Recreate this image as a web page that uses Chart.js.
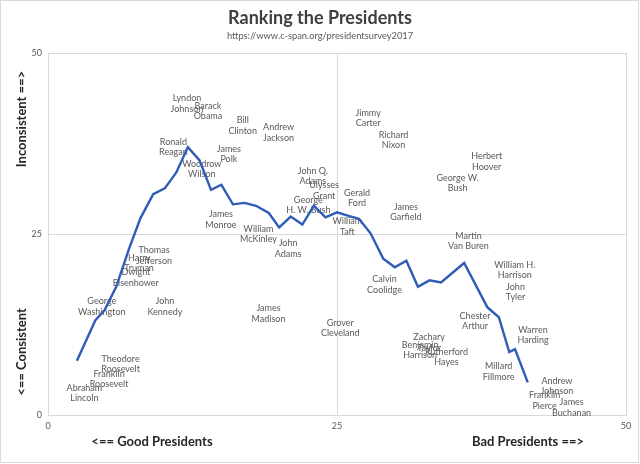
<!DOCTYPE html>
<html>
<head>
<meta charset="utf-8">
<script src="https://cdn.jsdelivr.net/npm/chart.js@4.4.1/dist/chart.umd.min.js"></script>
<style>
    body { margin: 0; background: #ffffff; }
    #wrap { width: 640px; height: 464px; position: relative; }
</style>
</head>
<body>
<div id="wrap"><canvas id="rankingChart"></canvas></div>
<script>
// C-SPAN rank (x) and consistency (y) for each president
const names = [
    'Abraham\nLincoln', 'George\nWashington', 'Franklin\nRoosevelt', 'Theodore\nRoosevelt',
    'Dwight\nEisenhower', 'Harry\nTruman', 'Thomas\nJefferson', 'John\nKennedy',
    'Ronald\nReagan', 'Lyndon\nJohnson', 'Woodrow\nWilson', 'Barack\nObama',
    'James\nMonroe', 'James\nPolk', 'Bill\nClinton', 'William\nMcKinley',
    'James\nMadison', 'Andrew\nJackson', 'John\nAdams', 'George\nH. W. Bush',
    'John Q.\nAdams', 'Ulysses\nGrant', 'Grover\nCleveland', 'William\nTaft',
    'Gerald\nFord', 'Jimmy\nCarter', 'Calvin\nCoolidge', 'Richard\nNixon',
    'James\nGarfield', 'Benjamin\nHarrison', 'Zachary\nTaylor', 'Rutherford\nHayes',
    'George W.\nBush', 'Martin\nVan Buren', 'Chester\nArthur', 'Herbert\nHoover',
    'Millard\nFillmore', 'William H.\nHarrison', 'John\nTyler', 'Warren\nHarding',
    'Franklin\nPierce', 'Andrew\nJohnson', 'James\nBuchanan'
];
const ranks = [
    1, 2, 3, 4, 5, 6, 7, 8, 9, 10, 11, 12, 13, 14, 15, 16, 17, 18, 19, 20, 21, 22,
    23, 24, 25, 26, 27, 28, 29, 30, 31, 32, 33, 34, 35, 36, 37, 38, 39, 40, 41, 42, 43
];
const consistency = [
    3, 15, 5, 7, 19, 21, 22, 15, 37, 43, 34, 42, 27, 36, 40, 25, 14, 39, 23, 29, 33, 31,
    12, 26, 30, 41, 18, 38, 28, 9, 10, 8, 32, 24, 13, 35, 6, 20, 17, 11, 2, 4, 1
];

// trend line
const trendX = [
    2.5, 4.1, 4.9, 5.9, 7.0, 8.0, 9.1, 10.1, 11.1, 12.1, 13.1, 14.1, 15.0, 16.0, 17.0,
    18.0, 19.1, 20.0, 21.0, 22.0, 23.0, 24.0, 25.0, 26.0, 26.9, 27.9, 29.0, 30.0, 31.0,
    32.0, 33.0, 34.0, 36.0, 38.0, 39.0, 39.9, 40.4, 41.5
];
const trendY = [
    7.5, 13.1, 14.5, 17.7, 22.9, 27.2, 30.5, 31.3, 33.5, 37.0, 35.2, 31.1, 31.8, 29.1, 29.3,
    28.9, 27.9, 25.9, 27.4, 26.3, 28.9, 27.3, 28.0, 27.5, 27.1, 25.1, 21.6, 20.4, 21.3,
    17.7, 18.6, 18.3, 21.0, 14.9, 13.5, 8.7, 9.1, 4.5
];

const axisTicks = [0, 25, 50];

const labelFont = '9px Lato, "Liberation Sans", sans-serif';
const gridColor = '#d9d9d9';

const presidentPoints = ranks.map((r, i) => ({ x: r, y: consistency[i] }));
const trendPoints = trendX.map((x, i) => ({ x: x, y: trendY[i] }));

// data labels to the right of each (hidden) point, lines centred in their box
const nameLabels = {
    id: 'nameLabels',
    beforeDatasetsDraw(chart) {
        const ctx = chart.ctx;
        const meta = chart.getDatasetMeta(0);
        ctx.save();
        ctx.font = labelFont;
        ctx.fillStyle = '#595959';
        ctx.textAlign = 'center';
        ctx.textBaseline = 'middle';
        meta.data.forEach((pt, i) => {
            const lines = names[i].split('\n');
            const w = Math.max(...lines.map(l => ctx.measureText(l).width));
            const cx = pt.x + 7 + w / 2;
            const lh = 10.4;
            const top = pt.y - (lines.length - 1) * lh / 2;
            lines.forEach((l, k) => ctx.fillText(l, cx, top + k * lh));
        });
        ctx.restore();
    }
};

const frameAndTitles = {
    id: 'frameAndTitles',
    afterDraw(chart) {
        const ctx = chart.ctx;
        ctx.save();
        ctx.strokeStyle = gridColor;
        ctx.lineWidth = 1;
        ctx.strokeRect(0.5, 0.5, 638, 462);

        ctx.textAlign = 'center';
        ctx.textBaseline = 'middle';
        ctx.fillStyle = '#404040';
        ctx.font = 'bold 18px Lato, "Liberation Sans", sans-serif';
        ctx.fillText('Ranking the Presidents', 320, 18);
        ctx.fillStyle = '#595959';
        ctx.font = '9.3px Lato, "Liberation Sans", sans-serif';
        ctx.fillText('https://www.c-span.org/presidentsurvey2017', 320, 36);

        ctx.fillStyle = '#262626';
        ctx.font = 'bold 13px Lato, "Liberation Sans", sans-serif';
        ctx.fillText('<== Good Presidents', 152, 442);
        ctx.fillText('Bad Presidents ==>', 528, 442);

        ctx.translate(22, 0);
        ctx.rotate(-Math.PI / 2);
        ctx.fillText('Inconsistent ==>', -119, 0);
        ctx.fillText('<== Consistent', -352, 0);
        ctx.restore();
    }
};

new Chart(document.getElementById('rankingChart'), {
    type: 'scatter',
    data: {
        datasets: [{
            label: 'Presidents',
            data: presidentPoints,
            pointRadius: 0,
            showLine: false
        }, {
            label: 'Trend',
            data: trendPoints,
            showLine: true,
            pointRadius: 0,
            borderColor: '#2f5cb7',
            borderWidth: 2.4,
            fill: false,
            tension: 0
        }]
    },
    options: {
        responsive: true,
        maintainAspectRatio: false,
        animation: false,
        layout: {
            padding: { top: 53, right: 14, bottom: 0, left: 0 }
        },
        plugins: {
            legend: { display: false },
            title: { display: false },
            tooltip: { enabled: false }
        },
        scales: {
            x: {
                type: 'linear',
                min: 0,
                max: 50,
                afterBuildTicks: (axis) => { axis.ticks = axisTicks.map(v => ({ value: v })); },
                afterFit: (axis) => { axis.height = 49; },
                grid: { color: gridColor, drawTicks: false },
                border: { color: gridColor },
                ticks: { color: '#595959', font: { size: 9, family: 'Lato' }, padding: 6 }
            },
            y: {
                type: 'linear',
                min: 0,
                max: 50,
                afterBuildTicks: (axis) => { axis.ticks = axisTicks.map(v => ({ value: v })); },
                afterFit: (axis) => { axis.width = 48; },
                grid: { color: gridColor, drawTicks: false },
                border: { color: gridColor },
                ticks: { color: '#595959', font: { size: 9, family: 'Lato' }, padding: 6 }
            }
        }
    },
    plugins: [nameLabels, frameAndTitles]
});
</script>
</body>
</html>
